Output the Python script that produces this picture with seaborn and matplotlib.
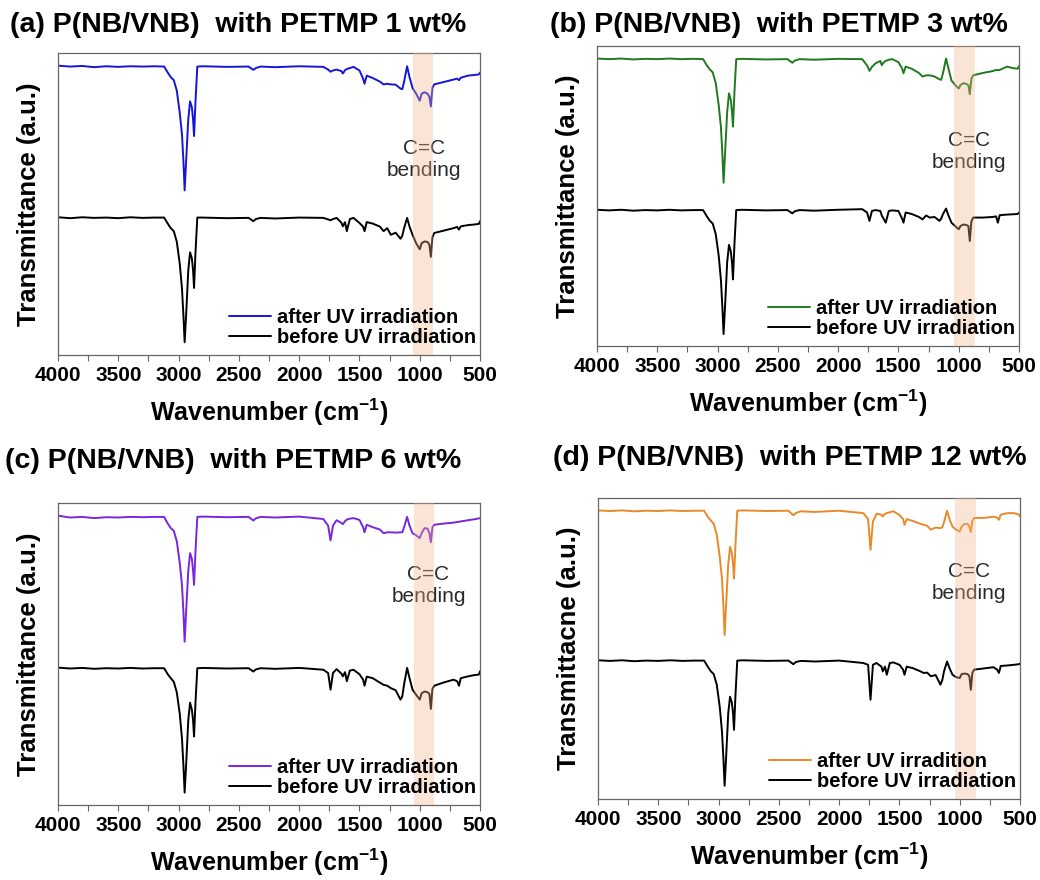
import matplotlib
matplotlib.use("Agg")
import matplotlib.pyplot as plt
from matplotlib.ticker import MultipleLocator, NullLocator
import seaborn as sns

# shared wavenumber grid (cm-1)
wn = [4000, 3900, 3800, 3700, 3600, 3500, 3400, 3300, 3200, 3120,
      3090, 3065, 3040, 3015, 2990, 2972, 2960, 2950, 2938, 2920,
      2905, 2890, 2880, 2872, 2860, 2845, 2800, 2600, 2420, 2380,
      2360, 2320, 2200, 2000,
      1800, 1760, 1740, 1720, 1690, 1650, 1638, 1620, 1605, 1580,
      1550, 1500, 1470, 1458, 1440, 1390, 1330, 1300, 1270, 1240,
      1200, 1160, 1145, 1130, 1105, 1085, 1060, 1030, 1000, 985,
      960, 935, 920, 908, 895, 880, 800, 720, 690, 675,
      660, 600, 550, 510, 500]

# (a) PETMP 1 wt%
a_after = [95.8, 95.5, 95.7, 95.3, 95.6, 95.4, 95.6, 95.5, 95.6, 95.5,
           93.5, 92.0, 91.0, 87.5, 80.0, 73.0, 64.0, 54.5, 64.0, 78.0,
           84.0, 82.0, 78.0, 72.5, 84.0, 95.5, 95.6, 95.4, 95.5, 94.4,
           95.0, 95.5, 95.3, 95.6,
           95.4, 94.5, 93.8, 94.2, 94.5, 94.0, 93.2, 94.3, 94.7, 95.0,
           95.4, 94.2, 91.5, 89.8, 92.5, 91.7, 90.5, 89.6, 89.8, 89.6,
           89.5, 88.2, 88.0, 90.5, 95.6, 92.0, 88.4, 86.5, 84.2, 86.5,
           87.0, 86.5, 85.5, 82.3, 88.5, 89.6, 90.4, 91.2, 91.5, 91.0,
           91.8, 92.5, 92.7, 92.9, 93.5]
a_before = [45.6, 45.3, 45.6, 45.4, 45.5, 45.3, 45.6, 45.4, 45.5, 45.5,
            43.5, 42.0, 41.0, 37.5, 30.0, 22.0, 13.0, 4.2, 13.0, 28.0,
            34.0, 32.0, 28.0, 22.2, 34.0, 45.5, 45.5, 45.3, 45.4, 44.3,
            45.0, 45.4, 45.2, 45.5,
            45.4, 44.9, 44.6, 45.0, 45.4, 43.8, 42.6, 44.0, 41.0, 45.0,
            45.4, 43.7, 42.5, 41.0, 44.0, 43.5, 42.5, 41.0, 42.0, 39.8,
            40.5, 38.5, 39.5, 42.0, 45.4, 42.5, 39.8, 37.0, 35.0, 37.0,
            37.6, 37.4, 36.5, 32.5, 39.0, 40.4, 41.2, 42.0, 42.4, 41.5,
            42.6, 43.0, 43.2, 43.4, 44.3]

# (b) PETMP 3 wt%
b_after = [95.8, 95.6, 95.8, 95.5, 95.7, 95.6, 95.8, 95.6, 95.7, 95.6,
           93.6, 92.2, 91.2, 87.6, 80.2, 73.0, 64.0, 54.4, 64.0, 78.0,
           84.2, 82.0, 78.0, 73.1, 84.5, 95.6, 95.7, 95.5, 95.6, 94.4,
           95.1, 95.6, 95.4, 95.7,
           95.6, 93.5, 91.7, 93.0, 94.2, 95.0, 93.6, 94.6, 95.0, 95.4,
           95.6, 94.6, 92.5, 90.9, 93.1, 92.4, 91.0, 89.8, 90.2, 90.2,
           89.8, 88.9, 88.7, 91.0, 95.8, 92.5, 88.5, 87.0, 85.8, 87.0,
           87.6, 87.3, 86.9, 83.9, 89.0, 90.2, 91.0, 91.6, 92.0, 91.9,
           92.0, 93.1, 92.6, 92.4, 93.3]
b_before = [45.4, 45.2, 45.4, 45.1, 45.3, 45.2, 45.4, 45.2, 45.3, 45.3,
            43.3, 41.8, 40.8, 37.3, 30.0, 22.0, 13.0, 4.0, 13.0, 28.0,
            33.7, 31.5, 27.8, 22.2, 33.8, 45.3, 45.4, 45.2, 45.3, 44.2,
            44.9, 45.3, 45.1, 45.4,
            45.6, 44.5, 41.7, 45.0, 45.3, 45.0, 43.5, 42.2, 41.1, 45.0,
            45.2, 45.0, 42.5, 41.1, 44.5, 44.0, 43.0, 42.2, 43.5, 42.8,
            43.0, 41.7, 42.5, 44.0, 45.8, 43.5, 41.1, 40.0, 38.9, 40.0,
            40.5, 40.3, 40.0, 35.0, 41.5, 42.8, 42.8, 43.0, 43.2, 41.1,
            43.6, 43.8, 43.9, 44.0, 44.5]

# (c) PETMP 6 wt%
c_after = [95.8, 95.2, 95.4, 95.0, 95.3, 95.2, 95.4, 95.3, 95.4, 95.4,
           93.2, 91.7, 90.8, 87.3, 80.0, 72.8, 63.8, 54.1, 63.8, 77.5,
           83.4, 81.5, 77.5, 72.9, 84.0, 95.4, 95.5, 95.3, 95.4, 94.2,
           94.9, 95.4, 95.2, 95.5,
           94.7, 92.5, 87.6, 92.5, 94.3, 93.4, 93.0, 94.0, 94.5, 94.8,
           95.0, 94.4, 92.0, 90.3, 92.8, 92.0, 91.2, 90.0, 90.3, 90.3,
           90.2, 90.3, 90.3, 92.0, 95.4, 92.5, 90.0, 89.3, 88.4, 90.0,
           91.7, 91.5, 90.0, 87.0, 92.0, 92.8, 93.2, 93.5, 93.7, 93.8,
           93.9, 94.3, 94.6, 94.9, 95.0]
c_before = [45.5, 45.2, 45.4, 45.1, 45.3, 45.2, 45.4, 45.2, 45.3, 45.3,
            43.3, 42.0, 40.8, 37.3, 30.0, 22.0, 13.0, 4.1, 13.0, 28.0,
            33.9, 31.5, 28.0, 22.7, 34.0, 45.3, 45.4, 45.2, 45.3, 44.2,
            44.9, 45.3, 45.1, 45.4,
            44.8, 43.7, 38.2, 43.7, 45.0, 43.5, 42.6, 44.0, 41.0, 44.5,
            44.8, 43.3, 41.5, 39.5, 42.5, 42.0, 40.5, 39.8, 39.5, 38.7,
            38.0, 34.9, 36.0, 40.0, 45.4, 42.0, 38.2, 36.5, 34.9, 37.0,
            37.6, 37.3, 36.8, 31.8, 38.5, 39.5, 40.6, 41.5, 41.0, 39.5,
            42.0, 42.6, 43.0, 43.2, 44.3]

# (d) PETMP 12 wt%
d_after = [95.9, 95.7, 95.9, 95.6, 95.8, 95.7, 95.9, 95.7, 95.8, 95.8,
           93.8, 92.6, 91.4, 87.8, 80.4, 73.3, 64.3, 54.5, 64.3, 78.0,
           83.8, 81.8, 78.0, 73.3, 84.5, 95.8, 95.9, 95.7, 95.8, 94.3,
           95.0, 95.6, 95.4, 95.8,
           95.0, 93.0, 82.8, 92.2, 94.8, 94.5, 93.9, 94.8, 95.0, 95.3,
           95.6, 94.4, 93.0, 91.1, 93.0, 92.4, 91.5, 91.1, 90.8, 89.5,
           90.2, 90.0, 90.3, 92.0, 95.8, 93.0, 90.5, 89.5, 88.9, 90.5,
           91.4, 91.4, 90.5, 88.7, 92.5, 93.4, 93.4, 93.8, 93.5, 92.8,
           94.5, 95.0, 95.0, 94.5, 93.9]
d_before = [46.1, 45.9, 46.1, 45.8, 46.0, 45.9, 46.1, 45.9, 46.0, 46.0,
            44.0, 42.5, 41.5, 38.0, 30.5, 22.5, 13.5, 4.4, 13.5, 28.5,
            34.0, 32.0, 28.5, 23.0, 34.5, 46.0, 46.1, 45.9, 46.0, 44.8,
            45.5, 45.9, 45.7, 46.0,
            45.2, 44.6, 33.0, 44.6, 45.2, 44.0, 42.4, 44.0, 41.3, 45.2,
            45.4, 44.6, 43.0, 41.3, 44.0, 43.5, 42.5, 41.9, 42.0, 40.8,
            41.2, 38.0, 39.5, 42.5, 45.7, 43.5, 41.3, 40.5, 40.2, 41.5,
            41.7, 41.5, 40.8, 36.3, 42.0, 43.0, 43.4, 43.8, 43.0, 41.9,
            44.2, 44.4, 44.6, 44.8, 45.0]

titles = ["(a) P(NB/VNB)  with PETMP 1 wt%", "(b) P(NB/VNB)  with PETMP 3 wt%",
          "(c) P(NB/VNB)  with PETMP 6 wt%", "(d) P(NB/VNB)  with PETMP 12 wt%"]
ylabels = ["Transmittance (a.u.)", "Transmittance (a.u.)",
           "Transmittance (a.u.)", "Transmittacne (a.u.)"]
after_labels = ["after UV irradiation", "after UV irradiation",
                "after UV irradiation", "after UV irradition"]
before_label = "before UV irradiation"
after_data = [a_after, b_after, c_after, d_after]
before_data = [a_before, b_before, c_before, d_before]
colors = ["#1515d8", "#1f7a1f", "#7a25e0", "#e8892a"]

# layout (figure fractions) and annotation spots
axes_rect = [[0.0558, 0.5966, 0.4058, 0.3432],
             [0.5740, 0.6068, 0.4058, 0.3410],
             [0.0558, 0.0852, 0.4058, 0.3432],
             [0.5750, 0.0920, 0.4058, 0.3420]]
title_xy = [(10 / 1040, 1 - 25 / 880), (550 / 1040, 1 - 25 / 880),
            (5 / 1040, 1 - 461 / 880), (553 / 1040, 1 - 458 / 880)]
band = [(1060, 892), (1037, 865), (1047, 881), (1039, 865)]
note_xy = [(964, 64.6), (912, 64.8), (928, 72.7), (926, 71.9)]

sns.set_style("white")
plt.rcParams['font.family'] = ['Liberation Sans', 'DejaVu Sans']
plt.rcParams['mathtext.fontset'] = 'custom'
plt.rcParams['mathtext.bf'] = 'Liberation Sans:bold'
plt.rcParams['mathtext.rm'] = 'Liberation Sans'
plt.rcParams['text.color'] = 'black'
plt.rcParams['axes.labelcolor'] = 'black'
plt.rcParams['xtick.color'] = 'black'

fig = plt.figure(figsize=(10.4, 8.8), dpi=100)

for i in range(4):
    ax = fig.add_axes(axes_rect[i])
    sns.lineplot(x=wn, y=after_data[i], ax=ax, color=colors[i], lw=1.4,
                 sort=False, estimator=None, label=after_labels[i])
    sns.lineplot(x=wn, y=before_data[i], ax=ax, color="black", lw=1.4,
                 sort=False, estimator=None, label=before_label)
    ax.axvspan(band[i][0], band[i][1], color="#f0b48c", alpha=0.35, lw=0, zorder=5)
    ax.text(note_xy[i][0], note_xy[i][1], "C=C\nbending", ha="center", va="center",
            fontsize=15, color="#2a2a2a", linespacing=1.2, zorder=4)

    ax.set_xlim(4000, 500)
    ax.set_ylim(0, 100)
    ax.xaxis.set_major_locator(MultipleLocator(500))
    ax.xaxis.set_minor_locator(MultipleLocator(250))
    ax.yaxis.set_major_locator(NullLocator())
    ax.tick_params(axis="x", which="both", direction="out", length=4, width=0.8,
                   color="#666666", labelcolor="black", bottom=True,
                   labelsize=15, pad=4)
    for lab in ax.get_xticklabels():
        lab.set_fontweight("bold")
    for sp in ax.spines.values():
        sp.set_color("#666666")
        sp.set_linewidth(0.9)

    ax.set_xlabel("Wavenumber (cm$^{\\mathbf{-1}}$)", fontsize=18, fontweight="bold", labelpad=8)
    ax.set_ylabel(ylabels[i], fontsize=18.5, fontweight="bold", labelpad=12)

    ax.legend(loc="lower right", bbox_to_anchor=(1.02, -0.015), frameon=False,
              prop={"weight": "bold", "size": 14.5}, handlelength=2.1,
              handletextpad=0.3, labelspacing=0.05, borderaxespad=0.2)

    fig.text(title_xy[i][0], title_xy[i][1], titles[i], fontsize=20.5,
             fontweight="bold", ha="left", va="center")

fig.savefig("out.png", dpi=100)
